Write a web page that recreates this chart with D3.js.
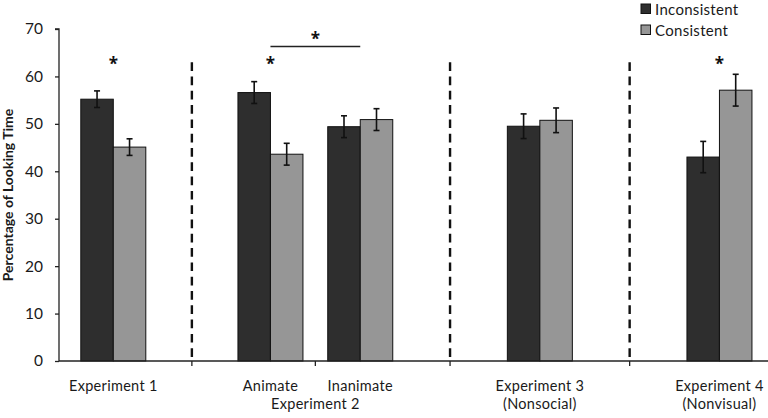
<!DOCTYPE html>
<html>
<head>
<meta charset="utf-8">
<script src="https://cdn.jsdelivr.net/npm/d3@7"></script>
<style>
  html, body { margin: 0; padding: 0; background: #fff; }
  svg { display: block; font-family: Lato, "Open Sans", sans-serif; }
</style>
</head>
<body>
<svg id="chart" width="768" height="418"></svg>
<script>
// ---- data ----
const groups = ["Experiment 1", "Animate", "Inanimate", "Experiment 3", "Experiment 4"];
const groupSub = ["", "", "", "(Nonsocial)", "(Nonvisual)"];
const groupSlot = [0, 7, 11, 19, 27];          // category slot index (with spacer slots)
const seriesNames = ["Inconsistent", "Consistent"];
const inconsistent = [55.2, 56.6, 49.4, 49.5, 43.0];
const consistent   = [45.1, 43.6, 50.9, 50.75, 57.1];
const inconsistentErr = [1.75, 2.3, 2.3, 2.6, 3.3];
const consistentErr   = [1.75, 2.3, 2.3, 2.6, 3.35];
const yTicks = [0, 10, 20, 30, 40, 50, 60, 70];
const sigGroups = [0, 1, 4];
const sigPair = [1, 2];
const superLabel = { text: "Experiment 2", groups: [1, 2] };
const dividerAfter = [0, 2, 3];

// ---- layout ----
const svg = d3.select("#chart");
const axisX0 = 59, axisX1 = 768;
const y = d3.scaleLinear().domain([0, 70]).range([361, 29]);
const x = d3.scaleLinear().domain([0, 27]).range([113.3, 719.45]);
const barW = 32.5;
const colors = ["#2e2e2e", "#969696"];
const textColor = "#1a1a1a";

const series = [inconsistent, consistent];
const errs = [inconsistentErr, consistentErr];

// bars
series.forEach((vals, si) => {
  svg.append("g").selectAll("rect").data(vals).join("rect")
    .attr("x", (d, i) => x(groupSlot[i]) - barW + si * barW)
    .attr("y", d => y(d))
    .attr("width", barW)
    .attr("height", d => y(0) - y(d))
    .attr("fill", colors[si])
    .attr("stroke", "#111")
    .attr("stroke-width", 1);
});

// error bars
series.forEach((vals, si) => {
  const g = svg.append("g").attr("stroke", "#111").attr("stroke-width", 1.6);
  vals.forEach((v, i) => {
    const cx = x(groupSlot[i]) - barW / 2 + si * barW;
    const e = errs[si][i];
    g.append("line").attr("x1", cx).attr("x2", cx).attr("y1", y(v + e)).attr("y2", y(v - e));
    g.append("line").attr("x1", cx - 3).attr("x2", cx + 3).attr("y1", y(v + e)).attr("y2", y(v + e));
    g.append("line").attr("x1", cx - 3).attr("x2", cx + 3).attr("y1", y(v - e)).attr("y2", y(v - e));
  });
});

// dashed dividers
const mid = i => (x(groupSlot[i]) + x(groupSlot[i + 1])) / 2;
svg.append("g").selectAll("line").data(dividerAfter).join("line")
  .attr("x1", d => mid(d)).attr("x2", d => mid(d))
  .attr("y1", y(63)).attr("y2", y(0))
  .attr("stroke", "#111").attr("stroke-width", 2.4)
  .attr("stroke-dasharray", "8.7,5.6");

// y axis
const yAxis = d3.axisLeft(y).tickValues(yTicks).tickSize(4).tickPadding(12);
const ya = svg.append("g").attr("transform", `translate(${axisX0},0)`).call(yAxis);
ya.select(".domain").attr("stroke", "#222").attr("stroke-width", 1.3).attr("d", `M-4,${y(70)}H0V${y(0)}`);
ya.selectAll(".tick line").attr("stroke", "#222").attr("stroke-width", 1.3);
ya.selectAll(".tick text").attr("font-size", 15.5).attr("fill", textColor)
  .attr("font-family", "Lato, 'Open Sans', sans-serif");

// x axis line + ticks
svg.append("line").attr("x1", axisX0).attr("x2", axisX1).attr("y1", y(0)).attr("y2", y(0))
  .attr("stroke", "#222").attr("stroke-width", 1.3);
svg.append("g").selectAll("line").data(d3.range(groups.length - 1)).join("line")
  .attr("x1", d => mid(d)).attr("x2", d => mid(d))
  .attr("y1", y(0)).attr("y2", y(0) + 5)
  .attr("stroke", "#222").attr("stroke-width", 1.3);

// x labels
const line1 = 391, line2 = 408.5, labelSize = 14.5;
svg.append("g").selectAll("text").data(groups).join("text")
  .attr("x", (d, i) => x(groupSlot[i]))
  .attr("y", line1)
  .attr("text-anchor", "middle").attr("font-size", labelSize).attr("fill", textColor)
  .attr("letter-spacing", 0.3)
  .text(d => d);
svg.append("g").selectAll("text").data(groupSub).join("text")
  .attr("x", (d, i) => x(groupSlot[i]))
  .attr("y", line2)
  .attr("text-anchor", "middle").attr("font-size", labelSize).attr("fill", textColor)
  .attr("letter-spacing", 0.3)
  .text(d => d);
svg.append("text")
  .attr("x", (x(groupSlot[superLabel.groups[0]]) + x(groupSlot[superLabel.groups[1]])) / 2)
  .attr("y", line2).attr("text-anchor", "middle").attr("font-size", labelSize).attr("fill", textColor)
  .attr("letter-spacing", 0.3)
  .text(superLabel.text);

// y label
svg.append("text")
  .attr("transform", `translate(13,195) rotate(-90)`)
  .attr("text-anchor", "middle").attr("font-size", 14).attr("font-weight", "bold")
  .attr("fill", textColor)
  .text("Percentage of Looking Time");

// significance asterisks
const starFont = "'Open Sans', sans-serif";
svg.append("g").selectAll("text").data(sigGroups).join("text")
  .attr("x", d => x(groupSlot[d]))
  .attr("y", y(63.3) + 9)
  .attr("text-anchor", "middle").attr("font-size", 17).attr("font-weight", "bold")
  .attr("font-family", starFont)
  .attr("fill", "#111").text("*");
const bx1 = x(groupSlot[sigPair[0]]), bx2 = x(groupSlot[sigPair[1]]);
svg.append("line").attr("x1", bx1).attr("x2", bx2).attr("y1", y(66.3)).attr("y2", y(66.3))
  .attr("stroke", "#222").attr("stroke-width", 1.5);
svg.append("text").attr("x", (bx1 + bx2) / 2).attr("y", y(68.6) + 9)
  .attr("text-anchor", "middle").attr("font-size", 17).attr("font-weight", "bold")
  .attr("font-family", starFont)
  .attr("fill", "#111").text("*");

// legend
const lg = svg.append("g").attr("transform", "translate(641,4)");
seriesNames.forEach((name, i) => {
  lg.append("rect").attr("x", 0).attr("y", i * 21).attr("width", 9.5).attr("height", 9.5)
    .attr("fill", colors[i]).attr("stroke", "#111").attr("stroke-width", 1);
  lg.append("text").attr("x", 14).attr("y", i * 21 + 10.5)
    .attr("font-size", 15).attr("fill", textColor).attr("letter-spacing", 0.3).text(name);
});
</script>
</body>
</html>
